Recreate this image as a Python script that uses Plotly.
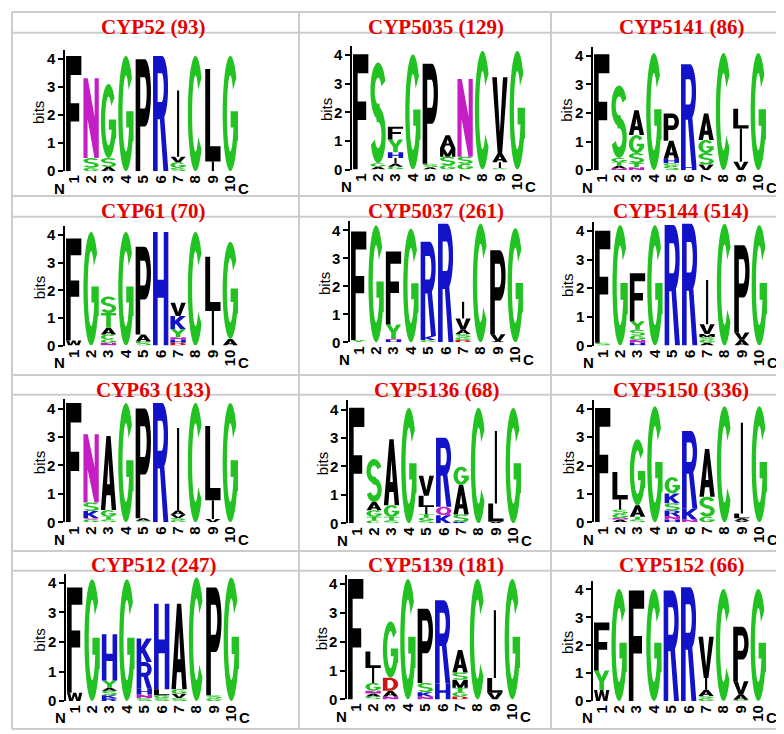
import numpy as np
import plotly.graph_objects as go

# Sequence logo data: per position, (residue, bits) stacked bottom -> top
CYP52 = [
    [("F", 4.12)],
    [("G", 0.12), ("S", 0.35), ("N", 2.85)],
    [("A", 0.15), ("S", 0.32), ("G", 2.65)],
    [("G", 4.12)],
    [("P", 4.0)],
    [("R", 4.12)],
    [("S", 0.12), ("G", 0.2), ("V", 0.2), ("I", 2.36)],
    [("C", 4.12)],
    [("I", 0.35), ("L", 3.3)],
    [("G", 4.12)],
]
CYP5035 = [
    [("F", 4.03)],
    [("A", 0.1), ("G", 0.12), ("S", 3.52)],
    [("G", 0.1), ("A", 0.1), ("I", 0.2), ("H", 0.2), ("Y", 0.45), ("F", 0.45)],
    [("G", 4.03)],
    [("A", 0.08), ("S", 0.12), ("P", 3.5)],
    [("G", 0.15), ("S", 0.3), ("M", 0.3), ("A", 0.45)],
    [("G", 0.2), ("S", 0.25), ("N", 2.72)],
    [("C", 4.15)],
    [("G", 0.05), ("I", 0.2), ("A", 0.33), ("V", 2.65)],
    [("G", 4.15)],
]
CYP5141 = [
    [("F", 4.06)],
    [("N", 0.06), ("A", 0.1), ("T", 0.12), ("G", 0.15), ("S", 2.53)],
    [("N", 0.1), ("T", 0.15), ("S", 0.35), ("G", 0.63), ("A", 0.87)],
    [("G", 4.1)],
    [("S", 0.15), ("G", 0.1), ("H", 0.15), ("A", 0.63), ("P", 0.95)],
    [("H", 0.18), ("R", 3.53)],
    [("V", 0.2), ("S", 0.4), ("G", 0.46), ("A", 0.92)],
    [("C", 4.1)],
    [("V", 0.3), ("I", 1.16), ("L", 0.69)],
    [("G", 4.1)],
]
CYP61 = [
    [("W", 0.18), ("F", 3.7)],
    [("G", 4.12)],
    [("N", 0.1), ("G", 0.12), ("C", 0.18), ("A", 0.25), ("T", 0.53), ("S", 0.6)],
    [("G", 4.12)],
    [("S", 0.15), ("A", 0.25), ("P", 3.18)],
    [("H", 4.12)],
    [("D", 0.1), ("H", 0.12), ("N", 0.08), ("Y", 0.3), ("K", 0.47), ("V", 0.48)],
    [("C", 4.12)],
    [("I", 1.25), ("L", 1.97)],
    [("A", 0.24), ("G", 3.52)],
]
CYP5037 = [
    [("Y", 0.08), ("F", 3.88)],
    [("G", 4.18)],
    [("H", 0.08), ("N", 0.04), ("Y", 0.52), ("F", 2.6)],
    [("G", 4.06)],
    [("G", 0.08), ("K", 0.15), ("R", 3.36)],
    [("R", 4.24)],
    [("D", 0.08), ("G", 0.1), ("S", 0.12), ("A", 0.15), ("V", 0.4), ("I", 0.6)],
    [("C", 4.24)],
    [("A", 0.05), ("V", 0.24), ("P", 3.0)],
    [("G", 4.08)],
]
CYP5144 = [
    [("S", 0.1), ("F", 3.9)],
    [("G", 4.2)],
    [("H", 0.1), ("N", 0.1), ("G", 0.15), ("S", 0.2), ("Y", 0.3), ("F", 1.67)],
    [("G", 4.2)],
    [("R", 4.2)],
    [("R", 4.25)],
    [("A", 0.1), ("G", 0.1), ("S", 0.1), ("M", 0.1), ("V", 0.34), ("I", 1.55)],
    [("C", 4.25)],
    [("A", 0.2), ("V", 0.26), ("P", 3.04)],
    [("G", 4.2)],
]
CYP63 = [
    [("F", 4.2)],
    [("G", 0.1), ("Q", 0.05), ("K", 0.25), ("S", 0.3), ("N", 2.4)],
    [("S", 0.1), ("T", 0.1), ("G", 0.23), ("A", 2.61)],
    [("G", 4.2)],
    [("S", 0.06), ("A", 0.08), ("P", 3.86)],
    [("R", 4.2)],
    [("G", 0.08), ("S", 0.07), ("V", 0.12), ("A", 0.15), ("I", 2.9)],
    [("C", 4.2)],
    [("V", 0.12), ("I", 0.66), ("L", 2.61)],
    [("G", 4.2)],
]
CYP5136 = [
    [("F", 4.06)],
    [("C", 0.1), ("T", 0.13), ("G", 0.23), ("A", 0.29), ("S", 1.51)],
    [("S", 0.1), ("T", 0.13), ("G", 0.41), ("A", 2.32)],
    [("G", 4.06)],
    [("S", 0.1), ("G", 0.1), ("T", 0.12), ("I", 0.25), ("L", 0.4), ("V", 0.7)],
    [("K", 0.28), ("Q", 0.3), ("R", 2.43)],
    [("K", 0.06), ("S", 0.25), ("A", 1.04), ("G", 0.64)],
    [("C", 4.06)],
    [("V", 0.06), ("L", 0.64), ("I", 2.55)],
    [("G", 4.06)],
]
CYP5150 = [
    [("F", 4.03)],
    [("A", 0.1), ("N", 0.05), ("G", 0.15), ("S", 0.15), ("I", 0.35), ("L", 0.97)],
    [("S", 0.1), ("T", 0.1), ("A", 0.4), ("G", 2.33)],
    [("G", 4.09)],
    [("H", 0.1), ("N", 0.12), ("R", 0.2), ("S", 0.25), ("K", 0.35), ("G", 0.57)],
    [("N", 0.1), ("K", 0.38), ("R", 2.74)],
    [("G", 0.2), ("S", 0.7), ("A", 1.68)],
    [("C", 4.09)],
    [("V", 0.06), ("A", 0.08), ("L", 0.17), ("I", 3.2)],
    [("G", 4.09)],
]
CYP512 = [
    [("W", 0.28), ("F", 3.57)],
    [("G", 4.13)],
    [("R", 0.1), ("K", 0.1), ("S", 0.15), ("A", 0.1), ("Y", 0.25), ("H", 1.56)],
    [("G", 4.13)],
    [("S", 0.1), ("N", 0.12), ("H", 0.2), ("R", 0.9), ("K", 0.8)],
    [("S", 0.1), ("G", 0.1), ("L", 0.2), ("H", 2.9)],
    [("S", 0.1), ("V", 0.15), ("G", 0.15), ("A", 2.9)],
    [("C", 4.19)],
    [("G", 0.1), ("S", 0.1), ("P", 3.65)],
    [("G", 4.19)],
]
CYP5139 = [
    [("F", 4.17)],
    [("S", 0.1), ("A", 0.1), ("N", 0.1), ("G", 0.27), ("I", 0.52), ("L", 0.57)],
    [("N", 0.1), ("A", 0.2), ("D", 0.45), ("G", 1.95)],
    [("G", 4.17)],
    [("N", 0.1), ("K", 0.15), ("S", 0.32), ("P", 2.57)],
    [("H", 0.55), ("R", 2.88)],
    [("D", 0.1), ("G", 0.15), ("T", 0.15), ("M", 0.28), ("S", 0.25), ("A", 0.78)],
    [("C", 4.17)],
    [("V", 0.23), ("L", 0.51), ("I", 2.35)],
    [("G", 4.17)],
]
CYP5152 = [
    [("W", 0.4), ("Y", 0.7), ("F", 1.72)],
    [("G", 4.02)],
    [("F", 3.96)],
    [("G", 4.02)],
    [("R", 3.96)],
    [("R", 4.08)],
    [("G", 0.1), ("S", 0.08), ("A", 0.23), ("I", 0.42), ("V", 1.48)],
    [("C", 4.02)],
    [("S", 0.05), ("A", 0.19), ("V", 0.47), ("P", 1.95)],
    [("G", 4.02)],
]

LOGOS = [CYP52, CYP5035, CYP5141, CYP61, CYP5037, CYP5144,
         CYP63, CYP5136, CYP5150, CYP512, CYP5139, CYP5152]
TITLES = ["CYP52 (93)", "CYP5035 (129)", "CYP5141 (86)",
          "CYP61 (70)", "CYP5037 (261)", "CYP5144 (514)",
          "CYP63 (133)", "CYP5136 (68)", "CYP5150 (336)",
          "CYP512 (247)", "CYP5139 (181)", "CYP5152 (66)"]
POSITIONS = list(range(1, 11))
BIT_TICKS = [0, 1, 2, 3, 4]

# weblogo "chemistry" colour scheme
GREEN, BLUE, MAGENTA, RED, BLACK = "#21c221", "#1212c8", "#c41ec4", "#d01414", "#000000"
COLORS = {}
for aa in "GSTYC":
    COLORS[aa] = GREEN
for aa in "NQ":
    COLORS[aa] = MAGENTA
for aa in "KRH":
    COLORS[aa] = BLUE
for aa in "DE":
    COLORS[aa] = RED
for aa in "AVLIPWFM":
    COLORS[aa] = BLACK

# ---------- glyph outlines in a unit box ----------
def arc(cx, cy, rx, ry, a0, a1, n=36):
    t = np.radians(np.linspace(a0, a1, n))
    return list(zip(cx + rx * np.cos(t), cy + ry * np.sin(t)))


def band(cx, cy, rxo, ryo, rxi, ryi, a0, a1, n=36):
    return arc(cx, cy, rxo, ryo, a0, a1, n) + arc(cx, cy, rxi, ryi, a1, a0, n)


def rect(x0, y0, x1, y1):
    return [(x0, y0), (x1, y0), (x1, y1), (x0, y1)]


def area(p):
    a = 0.0
    for (x0, y0), (x1, y1) in zip(p, p[1:] + p[:1]):
        a += x0 * y1 - x1 * y0
    return a


def orient(p, ccw):
    return p if (area(p) > 0) == ccw else p[::-1]


GLYPHS = {
    "F": ([rect(0, 0, 0.3, 1), rect(0, 0.835, 1, 1), rect(0, 0.43, 0.86, 0.59)], []),
    "L": ([rect(0, 0, 0.32, 1), rect(0, 0, 1, 0.165)], []),
    "I": ([rect(0.43, 0, 0.57, 1)], []),
    "T": ([rect(0, 0.835, 1, 1), rect(0.35, 0, 0.65, 1)], []),
    "H": ([rect(0, 0, 0.3, 1), rect(0.7, 0, 1, 1), rect(0, 0.42, 1, 0.58)], []),
    "N": ([rect(0, 0, 0.27, 1), rect(0.73, 0, 1, 1),
           [(0, 1), (0.28, 1), (1, 0.22), (1, 0), (0.72, 0), (0, 0.78)]], []),
    "M": ([rect(0, 0, 0.22, 1), rect(0.78, 0, 1, 1),
           [(0, 1), (0.26, 1), (0.5, 0.32), (0.74, 1), (1, 1), (0.63, 0), (0.37, 0)]], []),
    "V": ([[(0, 1), (0.3, 1), (0.5, 0.27), (0.7, 1), (1, 1), (0.65, 0), (0.35, 0)]], []),
    "W": ([[(0, 1), (0.2, 1), (0.29, 0.3), (0.4, 1), (0.6, 1), (0.71, 0.3), (0.8, 1),
            (1, 1), (0.86, 0), (0.62, 0), (0.5, 0.62), (0.38, 0), (0.14, 0)]], []),
    "Y": ([[(0, 1), (0.3, 1), (0.5, 0.64), (0.7, 1), (1, 1), (0.65, 0.42),
            (0.65, 0), (0.35, 0), (0.35, 0.42)]], []),
    "A": ([[(0, 0), (0.29, 0), (0.36, 0.2), (0.64, 0.2), (0.71, 0), (1, 0),
            (0.64, 1), (0.36, 1)]],
          [[(0.41, 0.35), (0.59, 0.35), (0.5, 0.68)]]),
    "K": ([rect(0, 0, 0.3, 1),
           [(0.28, 0.62), (0.62, 1), (1, 1), (0.56, 0.55), (1, 0), (0.64, 0),
            (0.36, 0.4), (0.28, 0.32)]], []),
    "C": ([band(0.5, 0.5, 0.5, 0.5, 0.22, 0.33, 38, 322)], []),
    "G": ([band(0.5, 0.5, 0.5, 0.5, 0.22, 0.33, 38, 350), rect(0.72, 0.26, 1, 0.52),
           rect(0.52, 0.38, 1, 0.52)], []),
    "S": ([band(0.5, 0.72, 0.5, 0.28, 0.22, 0.13, 20, 292),
           band(0.5, 0.28, 0.5, 0.28, 0.22, 0.13, 200, 472)], []),
    "P": ([rect(0, 0, 0.3, 1), [(0, 1)] + arc(0.6, 0.7, 0.4, 0.3, 90, -90) + [(0, 0.4)]],
          [[(0.3, 0.84)] + arc(0.58, 0.7, 0.14, 0.14, 90, -90) + [(0.3, 0.56)]]),
    "R": ([rect(0, 0, 0.3, 1), [(0, 1)] + arc(0.58, 0.725, 0.4, 0.275, 90, -90) + [(0, 0.45)],
           [(0.42, 0.5), (0.72, 0.5), (1, 0), (0.68, 0)]],
          [[(0.3, 0.85)] + arc(0.56, 0.725, 0.14, 0.125, 90, -90) + [(0.3, 0.6)]]),
    "D": ([[(0, 0), (0.45, 0)] + arc(0.45, 0.5, 0.55, 0.5, -90, 90) + [(0, 1)]],
          [[(0.3, 0.17), (0.45, 0.17)] + arc(0.45, 0.5, 0.25, 0.33, -90, 90) + [(0.3, 0.83)]]),
    "Q": ([arc(0.5, 0.52, 0.5, 0.48, 0, 360, 60),
           [(0.5, 0.22), (0.72, 0.3), (1, 0.08), (0.8, 0)]],
          [arc(0.5, 0.52, 0.22, 0.31, 0, 360, 60)]),
}


def glyph_path(letter, x0, w, y0, h):
    outers, holes = GLYPHS[letter]
    parts = [orient(p, True) for p in outers] + [orient(p, False) for p in holes]
    segs = []
    for p in parts:
        pts = ["%.4f,%.4f" % (x0 + u * w, y0 + v * h) for u, v in p]
        segs.append("M" + " L".join(pts) + " Z")
    return " ".join(segs)


# ---------- layout geometry (pixels of a 784 x 734 page) ----------
W, H = 784, 734
AX_LEFT = [[57, 344, 585], [57, 342, 586], [57, 340, 586], [58, 339, 585]]
Y_ZERO = [[165, 163.3, 164], [341.3, 338, 341.3], [520, 521, 520], [700.7, 699, 700.7]]
PX_PER_BIT = [[28.3, 28.9, 28.9], [27.9, 28.3, 29.0], [28.75, 28.75, 28.7], [29.85, 29.2, 28.2]]
LOGO_WIDTH = 174
Y_MAX = 4.32
TITLE_X = [145, 428, 673]
TITLE_Y = [19, 205, 386.5, 563]
H_LINES = [4, 25, 190, 211, 371, 391, 549, 569, 729]
V_LINES = [4, 291, 543, 781]
LETTER_W = 0.88


def px(x):
    return x / W


def py(y):
    return 1 - y / H


fig = go.Figure()
shapes = []
annotations = []
layout_axes = {}

tick_font = dict(family="Liberation Sans", size=15, color="black", weight="bold")

for k, (logo, title) in enumerate(zip(LOGOS, TITLES)):
    r, c = divmod(k, 3)
    idx = k + 1
    xa = "x" if idx == 1 else "x%d" % idx
    ya = "y" if idx == 1 else "y%d" % idx
    left = AX_LEFT[r][c]
    y0 = Y_ZERO[r][c]
    ppb = PX_PER_BIT[r][c]
    top = y0 - Y_MAX * ppb

    layout_axes["xaxis" if idx == 1 else "xaxis%d" % idx] = dict(
        domain=[px(left), px(left + LOGO_WIDTH)], anchor=ya,
        range=[0.5, 10.5], tickvals=POSITIONS, ticktext=[str(p) for p in POSITIONS],
        tickangle=-90, ticks="", showline=False, showgrid=False, zeroline=False,
        tickfont=tick_font, fixedrange=True,
    )
    layout_axes["yaxis" if idx == 1 else "yaxis%d" % idx] = dict(
        domain=[py(y0), py(top)], anchor=xa,
        range=[0, Y_MAX], tickvals=BIT_TICKS, ticks="outside", ticklen=5, tickwidth=1.5,
        tickcolor="black", showline=True, linecolor="black", linewidth=1.5,
        showgrid=False, zeroline=False, tickfont=tick_font, fixedrange=True,
    )

    # stacked letters
    for pos, stack in zip(POSITIONS, logo):
        base = 0.0
        for aa, bits in stack:
            shapes.append(dict(
                type="path", xref=xa, yref=ya,
                path=glyph_path(aa, pos - LETTER_W / 2, LETTER_W, base, bits),
                fillcolor=COLORS[aa], line=dict(width=0), fillrule="nonzero",
                layer="above",
            ))
            base += bits

    # an invisible trace so the axes are drawn
    fig.add_trace(go.Scatter(x=[1], y=[0], xaxis=xa, yaxis=ya, mode="markers",
                             marker=dict(opacity=0), hoverinfo="skip", showlegend=False))

    annotations.append(dict(
        text="bits", textangle=-90, x=px(left - 26), y=py(y0 - 2.08 * ppb),
        xref="paper", yref="paper", showarrow=False, xanchor="center", yanchor="middle",
        font=dict(family="Liberation Sans", size=15, color="black"),
    ))
    annotations.append(dict(
        text="<b>N</b>", x=px(left - 6), y=py(y0 + 17), xref="paper", yref="paper",
        showarrow=False, xanchor="center", yanchor="middle",
        font=dict(family="Liberation Sans", size=15, color="black"),
    ))
    annotations.append(dict(
        text="<b>C</b>", x=px(left + 178), y=py(y0 + 17), xref="paper", yref="paper",
        showarrow=False, xanchor="center", yanchor="middle",
        font=dict(family="Liberation Sans", size=15, color="black"),
    ))
    annotations.append(dict(
        text="<b>%s</b>" % title, x=px(TITLE_X[c]), y=py(TITLE_Y[r]),
        xref="paper", yref="paper", showarrow=False, xanchor="center", yanchor="middle",
        font=dict(family="Liberation Serif", size=21, color="#e60000"),
    ))

# table grid
for yl in H_LINES:
    shapes.append(dict(type="line", xref="paper", yref="paper",
                       x0=px(V_LINES[0]), x1=px(V_LINES[-1]), y0=py(yl), y1=py(yl),
                       line=dict(color="#cccccc", width=2), layer="below"))
for xl in V_LINES:
    shapes.append(dict(type="line", xref="paper", yref="paper",
                       x0=px(xl), x1=px(xl), y0=py(H_LINES[0]), y1=py(H_LINES[-1]),
                       line=dict(color="#cccccc", width=2), layer="below"))

fig.update_layout(
    width=W, height=H, margin=dict(l=0, r=0, t=0, b=0),
    paper_bgcolor="white", plot_bgcolor="rgba(0,0,0,0)",
    shapes=shapes, annotations=annotations, showlegend=False,
    **layout_axes,
)

fig.write_html("out.html")
